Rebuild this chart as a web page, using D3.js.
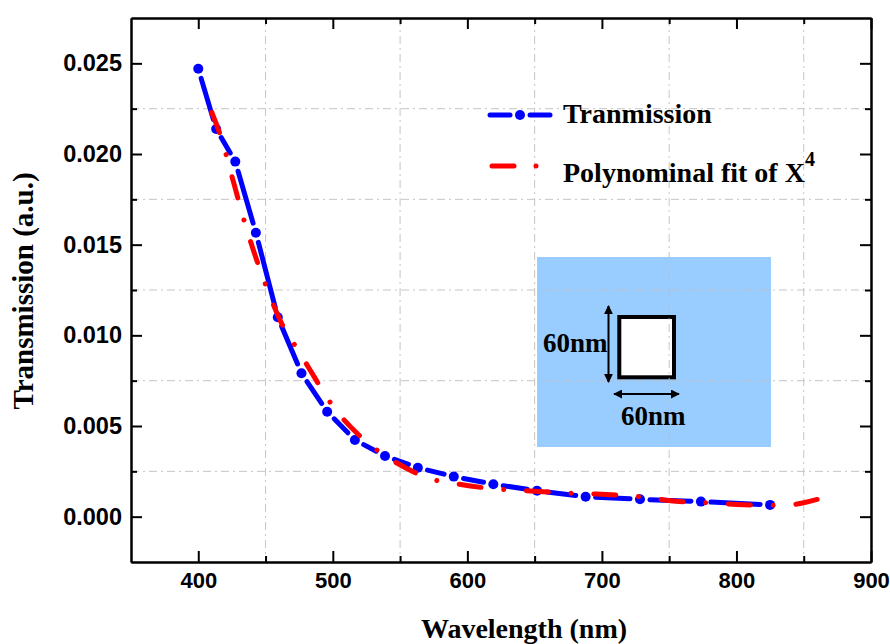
<!DOCTYPE html>
<html>
<head>
<meta charset="utf-8">
<script src="https://cdn.jsdelivr.net/npm/d3@7"></script>
<style>
  html, body { margin: 0; padding: 0; background: #fff; }
  svg { display: block; }
</style>
</head>
<body>
<svg id="chart" width="890" height="644"></svg>
<script>
// Simulated transmission spectrum (points evenly spaced in frequency)
const wavelength = [400, 413.3, 427.5, 442.8, 459.1, 476.7, 495.8, 516.4, 538.8,
                    563.2, 589.9, 619.3, 651.8, 687.9, 728.3, 773.6, 825.0];
const transmission = [0.02470, 0.02138, 0.01958, 0.01566, 0.01100, 0.00791, 0.00579,
                      0.00423, 0.00335, 0.00270, 0.00221, 0.00179, 0.00143, 0.00110,
                      0.00096, 0.00083, 0.00065];

// Fourth-order polynomial fit, sampled along the fitted curve
const fitWavelength = [410, 417, 426, 435, 450, 463, 474, 483, 500, 518, 536, 554,
                       571, 590, 624, 644, 677, 696, 732, 751, 785, 805, 822, 840, 860];
const fitValue = [0.0223, 0.0209, 0.0185, 0.0161, 0.0128, 0.0105, 0.0092, 0.0081,
                  0.0061, 0.0046, 0.0035, 0.0027, 0.00212, 0.00184, 0.00151, 0.00143,
                  0.00129, 0.00125, 0.00107, 0.00088, 0.00074, 0.00066, 0.00063,
                  0.00066, 0.00095];

const xMajorTicks = [400, 500, 600, 700, 800, 900];
const xMinorTicks = [450, 550, 650, 750, 850];
const yMajorTicks = [0, 0.005, 0.010, 0.015, 0.020, 0.025];
const yMinorTicks = [0.0025, 0.0075, 0.0125, 0.0175, 0.0225];

const seriesNames = ["Tranmission", "Polynominal fit of X"];
const fitExponent = "4";
const xTitle = "Wavelength (nm)";
const yTitle = "Transmission (a.u.)";
const insetLabel = "60nm";

// ---- layout ----
const plot = { left: 131, right: 871, top: 18, bottom: 562 };
const blue = "#0000ff", red = "#ff0000";
const serif = "'Liberation Serif', 'Times New Roman', serif";
const sans = "'Liberation Sans', Arial, sans-serif";

const svg = d3.select("#chart");

const x = d3.scaleLinear().domain([350, 900]).range([plot.left, plot.right]);
const y = d3.scaleLinear().domain([-0.0025, 0.0275]).range([plot.bottom, plot.top]);

// ---- inset: square aperture sketch ----
const inset = svg.append("g").attr("class", "inset");
inset.append("rect")
  .attr("x", 537).attr("y", 257).attr("width", 234).attr("height", 190)
  .attr("fill", "#99ccff");

const defs = svg.append("defs");
defs.append("marker")
  .attr("id", "arrowHead")
  .attr("viewBox", "0 0 10 10")
  .attr("refX", 9).attr("refY", 5)
  .attr("markerWidth", 4.5).attr("markerHeight", 4.5)
  .attr("markerUnits", "strokeWidth")
  .attr("orient", "auto-start-reverse")
  .append("path").attr("d", "M0,0 L10,5 L0,10 Z").attr("fill", "#000");

inset.append("rect")
  .attr("x", 619.3).attr("y", 317).attr("width", 54.7).attr("height", 60.3)
  .attr("fill", "#fff").attr("stroke", "#000").attr("stroke-width", 4);

inset.append("line")
  .attr("x1", 608.5).attr("x2", 608.5).attr("y1", 306).attr("y2", 382)
  .attr("stroke", "#000").attr("stroke-width", 2)
  .attr("marker-start", "url(#arrowHead)").attr("marker-end", "url(#arrowHead)");
inset.append("line")
  .attr("x1", 614).attr("x2", 679).attr("y1", 394).attr("y2", 394)
  .attr("stroke", "#000").attr("stroke-width", 2)
  .attr("marker-start", "url(#arrowHead)").attr("marker-end", "url(#arrowHead)");

inset.append("text")
  .attr("x", 543).attr("y", 352)
  .attr("font-family", serif).attr("font-weight", "bold").attr("font-size", 27)
  .attr("fill", "#000").text(insetLabel);
inset.append("text")
  .attr("x", 621).attr("y", 425)
  .attr("font-family", serif).attr("font-weight", "bold").attr("font-size", 27)
  .attr("fill", "#000").text(insetLabel);

// ---- grid (dash-dot, at the minor tick positions) ----
const grid = svg.append("g").attr("class", "grid")
  .attr("stroke", "#c0c0c0").attr("stroke-width", 1)
  .attr("stroke-dasharray", "8,4,2,4").attr("opacity", 0.9);
grid.selectAll("line.v").data(xMinorTicks).join("line").attr("class", "v")
  .attr("x1", d => x(d)).attr("x2", d => x(d))
  .attr("y1", plot.top).attr("y2", plot.bottom);
grid.selectAll("line.h").data(yMinorTicks).join("line").attr("class", "h")
  .attr("y1", d => y(d)).attr("y2", d => y(d))
  .attr("x1", plot.left).attr("x2", plot.right);

// ---- axes (ticks point inward on all four sides) ----
function styleAxis(size) {
  return g => {
    g.select(".domain").attr("stroke", "#000").attr("stroke-width", 2);
    g.selectAll(".tick line").attr("stroke", "#000").attr("stroke-width", 2);
    g.selectAll(".tick text")
      .attr("font-family", sans).attr("font-weight", "bold")
      .attr("font-size", size).attr("fill", "#000");
  };
}

const fmtY = d3.format(".3f");

svg.append("g").attr("transform", `translate(0,${plot.bottom})`)
  .call(d3.axisBottom(x).tickValues(xMajorTicks).tickSize(-11).tickSizeOuter(0)
        .tickPadding(10).tickFormat(d3.format("d")))
  .call(styleAxis(22));
svg.append("g").attr("transform", `translate(0,${plot.bottom})`)
  .call(d3.axisBottom(x).tickValues(xMinorTicks).tickSize(-6).tickSizeOuter(0).tickFormat(""))
  .call(styleAxis(22));

svg.append("g").attr("transform", `translate(0,${plot.top})`)
  .call(d3.axisTop(x).tickValues(xMajorTicks).tickSize(-11).tickSizeOuter(0).tickFormat(""))
  .call(styleAxis(22));
svg.append("g").attr("transform", `translate(0,${plot.top})`)
  .call(d3.axisTop(x).tickValues(xMinorTicks).tickSize(-6).tickSizeOuter(0).tickFormat(""))
  .call(styleAxis(22));

svg.append("g").attr("transform", `translate(${plot.left},0)`)
  .call(d3.axisLeft(y).tickValues(yMajorTicks).tickSize(-11).tickSizeOuter(0)
        .tickPadding(9).tickFormat(fmtY))
  .call(styleAxis(23.5));
svg.append("g").attr("transform", `translate(${plot.left},0)`)
  .call(d3.axisLeft(y).tickValues(yMinorTicks).tickSize(-6).tickSizeOuter(0).tickFormat(""))
  .call(styleAxis(22));

svg.append("g").attr("transform", `translate(${plot.right},0)`)
  .call(d3.axisRight(y).tickValues(yMajorTicks).tickSize(-11).tickSizeOuter(0).tickFormat(""))
  .call(styleAxis(22));
svg.append("g").attr("transform", `translate(${plot.right},0)`)
  .call(d3.axisRight(y).tickValues(yMinorTicks).tickSize(-6).tickSizeOuter(0).tickFormat(""))
  .call(styleAxis(22));

// ---- axis titles ----
svg.append("text")
  .attr("x", 524).attr("y", 638).attr("text-anchor", "middle")
  .attr("font-family", serif).attr("font-weight", "bold").attr("font-size", 28)
  .attr("fill", "#000").text(xTitle);
svg.append("text")
  .attr("transform", "translate(33,291) rotate(-90)").attr("text-anchor", "middle")
  .attr("font-family", serif).attr("font-weight", "bold").attr("font-size", 29)
  .attr("fill", "#000").text(yTitle);

// ---- measured series: straight segments with a gap around each symbol ----
const symbolGap = 10;
const pts = wavelength.map((w, i) => [x(w), y(transmission[i])]);

function trimmed([a, b]) {
  const dx = b[0] - a[0], dy = b[1] - a[1];
  const len = Math.hypot(dx, dy);
  const ux = dx / len, uy = dy / len;
  return [[a[0] + ux * symbolGap, a[1] + uy * symbolGap],
          [b[0] - ux * symbolGap, b[1] - uy * symbolGap], len];
}

const dataLayer = svg.append("g").attr("class", "series-data");
dataLayer.selectAll("line")
  .data(d3.pairs(pts).map(trimmed).filter(s => s[2] > 2 * symbolGap))
  .join("line")
  .attr("x1", s => s[0][0]).attr("y1", s => s[0][1])
  .attr("x2", s => s[1][0]).attr("y2", s => s[1][1])
  .attr("stroke", blue).attr("stroke-width", 5).attr("stroke-linecap", "round");
dataLayer.selectAll("circle").data(pts).join("circle")
  .attr("cx", p => p[0]).attr("cy", p => p[1]).attr("r", 5).attr("fill", blue);

// ---- fitted curve (dash-dot), pattern stretched so both ends land on a dash ----
const fitLine = d3.line()
  .x((d, i) => x(fitWavelength[i]))
  .y(d => y(d))
  .curve(d3.curveMonotoneX);
const dashLen = 22, nominalPeriod = 70;
const fitPath = svg.append("path")
  .attr("d", fitLine(fitValue))
  .attr("fill", "none").attr("stroke", red).attr("stroke-width", 5)
  .attr("stroke-linecap", "round");
const fitLen = fitPath.node().getTotalLength();
const nPeriods = Math.max(1, Math.round((fitLen - dashLen) / nominalPeriod));
const period = (fitLen - dashLen) / nPeriods;
const halfGap = (period - dashLen) / 2;
fitPath.attr("stroke-dasharray", `${dashLen},${halfGap},0.01,${halfGap}`);

// ---- legend ----
const legend = svg.append("g").attr("class", "legend");
const legY1 = 115, legY2 = 166, legX0 = 490, legX1 = 550, legTextX = 563;
const legMid = (legX0 + legX1) / 2;
legend.append("line")
  .attr("x1", legX0).attr("x2", legMid - symbolGap).attr("y1", legY1).attr("y2", legY1)
  .attr("stroke", blue).attr("stroke-width", 5).attr("stroke-linecap", "round");
legend.append("line")
  .attr("x1", legMid + symbolGap).attr("x2", legX1).attr("y1", legY1).attr("y2", legY1)
  .attr("stroke", blue).attr("stroke-width", 5).attr("stroke-linecap", "round");
legend.append("circle").attr("cx", legMid).attr("cy", legY1).attr("r", 5).attr("fill", blue);

legend.append("line")
  .attr("x1", legX0 + 2).attr("x2", legX1 + 4).attr("y1", legY2).attr("y2", legY2)
  .attr("stroke", red).attr("stroke-width", 5).attr("stroke-linecap", "round")
  .attr("stroke-dasharray", "22,22,0.01,22");

legend.append("text")
  .attr("x", legTextX).attr("y", 123)
  .attr("font-family", serif).attr("font-weight", "bold").attr("font-size", 28)
  .attr("fill", "#000").text(seriesNames[0]);
const fitLabel = legend.append("text")
  .attr("x", legTextX).attr("y", 182)
  .attr("font-family", serif).attr("font-weight", "bold").attr("font-size", 28)
  .attr("fill", "#000");
fitLabel.append("tspan").text(seriesNames[1]);
fitLabel.append("tspan").attr("dy", -16).attr("font-size", 20).text(fitExponent);
</script>
</body>
</html>
